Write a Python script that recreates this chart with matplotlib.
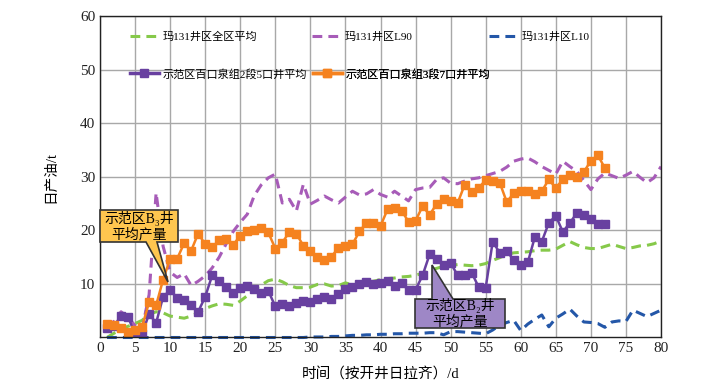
import numpy as np
import matplotlib.pyplot as plt
from matplotlib.patches import Polygon
from matplotlib.lines import Line2D

plt.rcParams['font.family'] = ['Liberation Serif', 'Noto Sans CJK SC', 'DejaVu Sans']

# 示范区百口泉组2段5口井平均 (day 1..72)
days_p = list(range(1, 73))
purple_avg = [1.7, 2.2, 4.0, 3.8, 0.7, 0.7, 4.4, 2.7, 7.6, 8.8,
              7.4, 7.0, 6.0, 4.8, 7.6, 11.6, 10.5, 9.4, 8.3, 9.3,
              9.7, 9.0, 8.3, 8.7, 5.8, 6.3, 5.8, 6.4, 6.8, 6.7,
              7.1, 7.6, 7.2, 8.2, 9.0, 9.4, 9.9, 10.3, 9.9, 10.1,
              10.5, 9.7, 10.2, 8.8, 8.9, 11.6, 15.5, 14.7, 13.6, 13.9,
              11.6, 11.7, 12.1, 9.4, 9.3, 17.9, 15.8, 16.2, 14.4, 13.6,
              14.0, 18.7, 17.9, 21.4, 22.7, 19.7, 21.4, 23.2, 22.8, 22.2,
              21.2, 21.2]

# 示范区百口泉组3段7口井平均 (day 1..72)
days_o = list(range(1, 73))
orange_avg = [2.6, 2.4, 1.8, 1.1, 1.4, 2.0, 6.6, 6.0, 10.8, 14.7,
              14.7, 17.6, 16.2, 19.4, 17.4, 16.8, 18.2, 18.4, 17.3, 19.0,
              19.8, 20.0, 20.5, 19.6, 16.6, 17.7, 19.7, 19.4, 17.1, 16.2,
              15.1, 14.5, 15.1, 16.7, 17.0, 17.4, 19.8, 21.4, 21.4, 20.8,
              23.9, 24.2, 23.7, 21.6, 21.8, 24.5, 22.9, 24.9, 25.8, 25.5,
              25.1, 28.5, 27.1, 27.9, 29.4, 29.2, 28.9, 25.3, 26.9, 27.3,
              27.3, 26.7, 27.3, 29.5, 27.9, 29.5, 30.4, 29.9, 30.9, 33.0,
              34.0, 31.6]

# 玛131井区全区平均
days_all = list(range(1, 81))
mahu_all = [0.0, 0.8, 1.5, 2.1, 2.6, 3.2, 4.3, 4.8, 4.6, 4.0,
            3.8, 3.6, 4.0, 4.6, 5.4, 5.9, 6.3, 6.2, 6.0, 6.8,
            7.8, 8.9, 9.8, 10.6, 10.9, 10.4, 9.7, 9.3, 9.3, 9.4,
            9.9, 10.0, 9.6, 9.7, 10.2, 9.8, 9.9, 10.3, 10.5, 10.8,
            11.0, 11.1, 11.3, 11.4, 11.6, 12.0, 12.5, 12.9, 13.3, 13.5,
            13.6, 13.5, 13.4, 13.5, 13.8, 14.4, 14.9, 15.5, 15.8, 15.9,
            16.0, 16.2, 16.3, 16.3, 16.5, 17.2, 17.9, 17.3, 16.8, 16.6,
            16.6, 17.0, 17.4, 17.0, 16.6, 16.8, 17.1, 17.2, 17.5, 18.0]

# 玛131井区L90
mahu_l90 = [2.0, 3.0, 4.8, 3.8, 2.2, 1.5, 8.0, 27.0, 17.0, 12.2,
            11.2, 11.9, 9.7, 10.5, 11.5, 13.0, 15.0, 17.5, 19.8, 21.5,
            23.0, 26.5, 28.5, 29.8, 30.5, 25.1, 25.8, 23.6, 28.6, 24.9,
            25.6, 26.4, 25.7, 25.1, 26.2, 27.3, 26.6, 26.8, 27.6, 26.7,
            26.2, 27.3, 26.4, 25.5, 27.6, 27.9, 28.0, 29.5, 29.8, 28.8,
            28.7, 29.2, 29.6, 29.8, 30.2, 30.6, 31.0, 31.8, 32.9, 33.3,
            33.5, 32.8, 31.9, 31.2, 30.5, 32.9, 31.9, 31.0, 29.3, 27.6,
            29.6, 30.7, 30.2, 29.7, 30.3, 31.0, 29.9, 28.9, 29.8, 31.9]

# 玛131井区L10
mahu_l10 = [0.0, 0.0, 0.0, 0.0, 0.0, 0.0, 0.0, 0.0, 0.0, 0.0,
            0.0, 0.0, 0.0, 0.0, 0.0, 0.0, 0.0, 0.0, 0.0, 0.0,
            0.0, 0.0, 0.0, 0.0, 0.0, 0.0, 0.0, 0.0, 0.0, 0.1,
            0.1, 0.1, 0.2, 0.2, 0.3, 0.4, 0.4, 0.5, 0.5, 0.6,
            0.6, 0.7, 0.7, 0.8, 0.8, 0.8, 0.9, 0.9, 0.5, 1.1,
            1.1, 1.0, 0.9, 0.8, 0.7, 1.4, 2.3, 2.8, 3.2, 1.3,
            2.5, 3.4, 4.2, 2.0, 3.6, 4.4, 5.3, 4.0, 2.9, 2.8,
            2.6, 1.9, 2.9, 3.1, 3.0, 5.1, 4.5, 3.9, 4.5, 5.1]

c_green = '#86C94A'
c_l90 = '#A75CB8'
c_l10 = '#2457A8'
c_purple = '#6840A0'
c_orange = '#F5821F'

fig = plt.figure(figsize=(7.21, 3.83), dpi=100)
ax = fig.add_axes([0.1387, 0.1188, 0.7781, 0.8394])

ax.plot(days_all, mahu_all, color=c_green, lw=2.2, dashes=(3.2, 2))
ax.plot(days_all, mahu_l90, color=c_l90, lw=2.2, dashes=(3.2, 2))
ax.plot(days_all, mahu_l10, color=c_l10, lw=2.2, dashes=(3.2, 2), clip_on=False)
ax.plot(days_p, purple_avg, color=c_purple, lw=1.8, marker='s', ms=6)
ax.plot(days_o, orange_avg, color=c_orange, lw=1.8, marker='s', ms=6)

ax.set_xlim(0, 80)
ax.set_ylim(0, 60)
ax.set_xticks(np.arange(0, 81, 5))
ax.set_yticks(np.arange(10, 61, 10))
ax.grid(True, color='#A8A8A8', lw=1)
ax.set_axisbelow(True)
ax.tick_params(length=0, labelsize=11, colors='#222222')
for s in ax.spines.values():
    s.set_color('#222222')
    s.set_linewidth(1)

ax.set_xlabel('时间（按开井日拉齐）/d', fontsize=10.5, labelpad=9)
ax.set_ylabel('日产油/t', fontsize=10.5, labelpad=16)

# legend entries, each placed at its own spot (pixel coords of the reference)
def px2ax(px, py):
    return ((px - 100) / 561.0, (337.5 - py) / 321.5)

entries = [
    (Line2D([], [], color=c_green, lw=2.2, dashes=(3.2, 2)), '玛131井区全区平均', 130, 37),
    (Line2D([], [], color=c_l90, lw=2.2, dashes=(3.2, 2)), '玛131井区L90', 312, 37),
    (Line2D([], [], color=c_l10, lw=2.2, dashes=(3.2, 2)), '玛131井区L10', 489, 37),
    (Line2D([], [], color=c_purple, lw=2.5, marker='s', ms=6), '示范区百口泉组2段5口井平均', 130, 74),
    (Line2D([], [], color=c_orange, lw=2.5, marker='s', ms=6), '示范区百口泉组3段7口井平均', 313, 74),
]
for h, lab, px, py in entries:
    lg = ax.legend([h], [lab], loc='center left', bbox_to_anchor=px2ax(px, py),
                   frameon=False, fontsize=8, handlelength=2.6,
                   handletextpad=0.35, borderpad=0, borderaxespad=0)
    ax.add_artist(lg)

# callouts
def callout(pts_px, text, tx, ty, fc):
    inv = ax.transData.inverted()
    pts = [inv.transform((x, 383 - y)) for x, y in pts_px]
    ax.add_patch(Polygon(pts, closed=True, fc=fc, ec='#333333', lw=1.2,
                         zorder=5, clip_on=False))
    p = inv.transform((tx, 383 - ty))
    ax.text(p[0], p[1], text, ha='center', va='center', fontsize=10,
            zorder=6, linespacing=1.2)

callout([(100, 210), (178, 210), (178, 242), (157, 242), (168, 282),
         (146, 242), (100, 242)],
        '示范区B₃井\n平均产量', 139, 226, '#FFC64F')
callout([(415, 299), (432, 299), (432, 265), (453, 299), (505, 299),
         (505, 328), (415, 328)],
        '示范区B₂井\n平均产量', 460, 313, '#9E87C6')

fig.savefig('out.png', dpi=100)
